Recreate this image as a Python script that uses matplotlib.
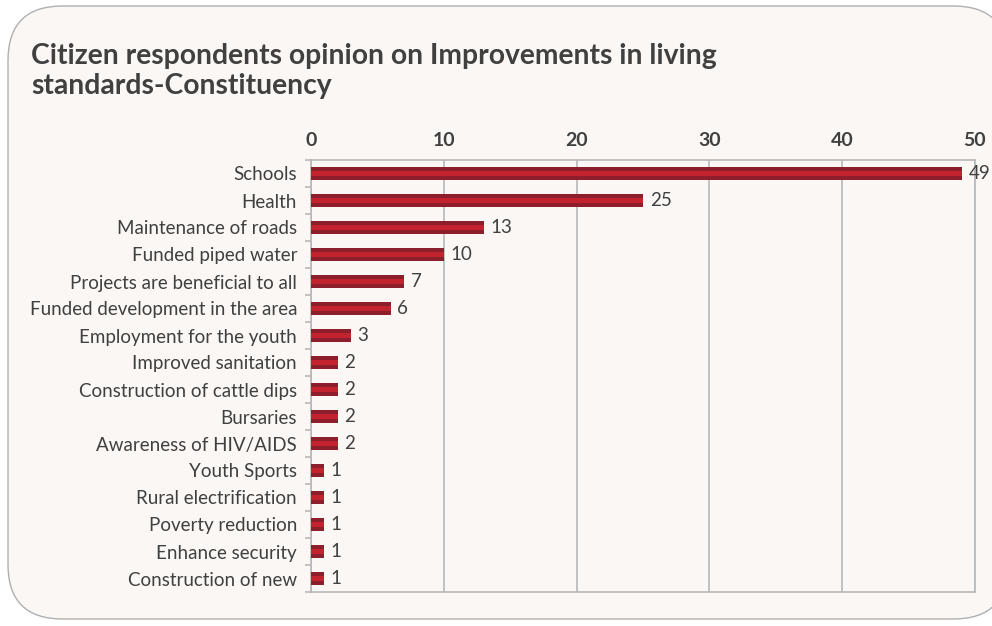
import matplotlib.pyplot as plt
from matplotlib.patches import FancyBboxPatch
import numpy as np

categories = ["Schools", "Health", "Maintenance of roads", "Funded piped water",
              "Projects are beneficial to all", "Funded development in the area",
              "Employment for the youth", "Improved sanitation",
              "Construction of cattle dips", "Bursaries", "Awareness of HIV/AIDS",
              "Youth Sports", "Rural electrification", "Poverty reduction",
              "Enhance security", "Construction of new"]
values = [49, 25, 13, 10, 7, 6, 3, 2, 2, 2, 2, 1, 1, 1, 1, 1]

text_col = "#404040"
grid_col = "#b8b8b8"
bg = "#faf7f4"

plt.rcParams['font.family'] = ['Lato', 'DejaVu Sans']

fig = plt.figure(figsize=(9.92, 6.26), dpi=100)
fig.patch.set_facecolor("white")

# rounded card behind everything (its right edge runs off the figure)
card = FancyBboxPatch((8 / 992, 7 / 626), 1000 / 992, 613 / 626,
                      boxstyle="round,pad=0,rounding_size=0.055",
                      transform=fig.transFigure, facecolor=bg,
                      edgecolor="#b0b0b0", linewidth=1.0, zorder=-5,
                      mutation_aspect=992 / 626)
fig.patches.append(card)

fig.text(31 / 992, 1 - 71 / 626, "Citizen respondents opinion on Improvements in living\nstandards-Constituency",
         fontsize=20.3, fontweight="bold", color=text_col, va="center", ha="left",
         linespacing=1.2)

ax = fig.add_axes([311 / 992, 1 - 592 / 626, 664 / 992, 432 / 626])
ax.set_facecolor("none")

y = np.arange(len(categories))
ax.barh(y, values, height=0.5, color="#8c1f2b", zorder=3)
ax.barh(y, values, height=0.22, color="#c3222f", zorder=4)

for yi, v in zip(y, values):
    ax.text(v + 0.5, yi, str(v), va="center", ha="left", fontsize=13.5,
            color=text_col, zorder=5)

ax.set_xlim(0, 50)
ax.set_ylim(len(categories) - 0.5, -0.5)
ax.set_xticks(range(0, 51, 10))
ax.xaxis.tick_top()
ax.tick_params(axis="x", length=0, pad=8, labelsize=14, labelcolor=text_col)
for lab in ax.get_xticklabels():
    lab.set_fontweight("bold")
ax.grid(axis="x", color=grid_col, linewidth=1.2, zorder=1)

ax.set_yticks(y)
ax.set_yticklabels(categories)
ax.tick_params(axis="y", which="major", length=0, pad=10, labelsize=13.5,
               labelcolor=text_col)
ax.set_yticks(np.arange(-0.5, len(categories), 1), minor=True)
ax.tick_params(axis="y", which="minor", length=4, color=grid_col, width=1.2)

for side in ["top", "bottom", "left", "right"]:
    ax.spines[side].set_color(grid_col)
    ax.spines[side].set_linewidth(1.2)

fig.savefig("out.png", dpi=100, facecolor=fig.get_facecolor())
